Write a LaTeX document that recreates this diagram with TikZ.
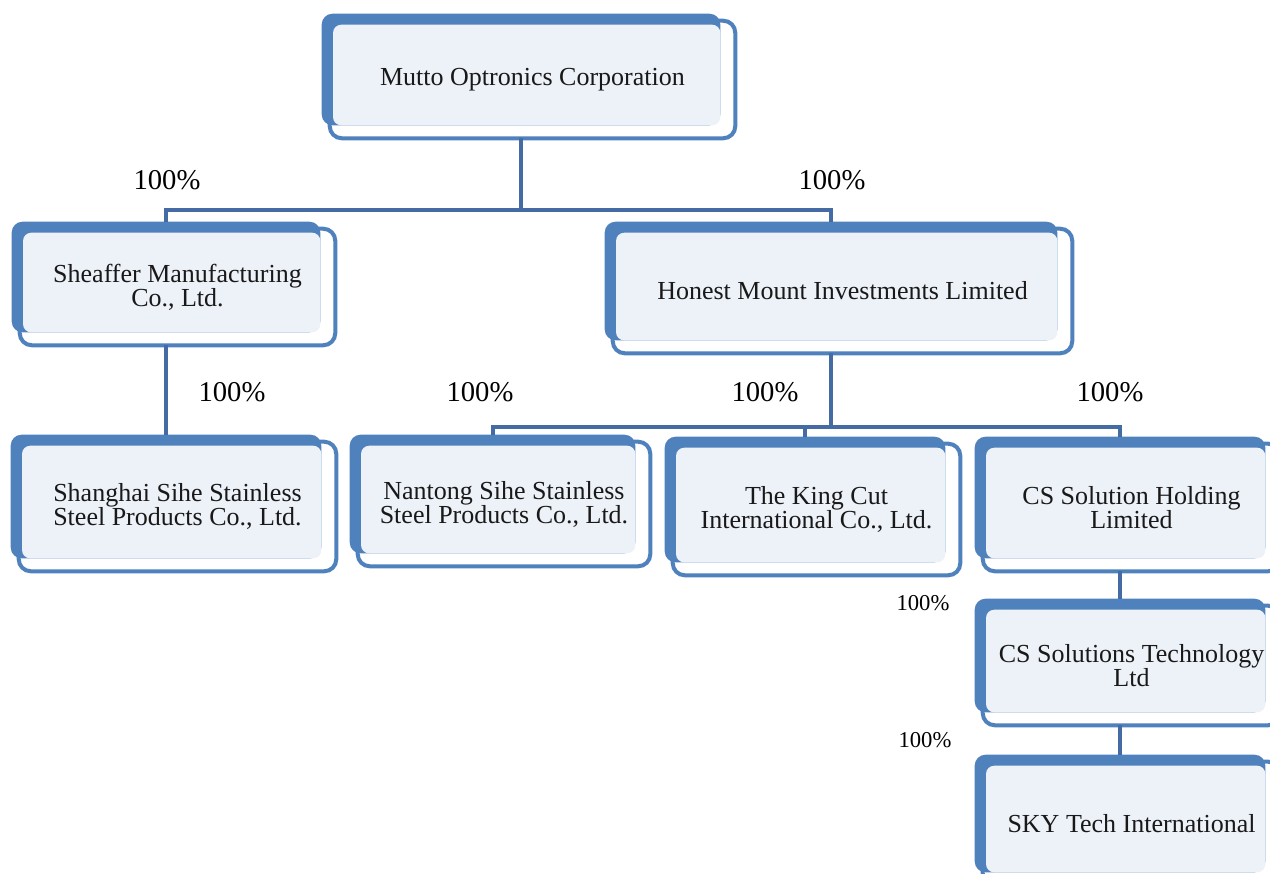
\documentclass[tikz,border=0pt]{standalone}
\usepackage{fontspec}
\setmainfont{Liberation Serif}
\usetikzlibrary{backgrounds}
\definecolor{boxblue}{RGB}{79,129,189}
\definecolor{boxfill}{RGB}{237,241,248}
\definecolor{linkblue}{RGB}{68,107,163}
\tikzset{
orgbox/.style={inner sep=0pt, align=center, text=black!90,
	font=\fontsize{19.5}{18}\selectfont},
boxframe/.style={draw=boxblue, fill=white, line width=3pt, rounded corners=9pt},
boxback/.style={fill=boxblue, rounded corners=8pt},
boxinner/.style={fill=boxfill, rounded corners=6pt},
link/.style={draw=linkblue, line width=3pt},
pct/.style={font=\fontsize{21.5}{24}\selectfont},
smallpct/.style={font=\fontsize{17}{20}\selectfont}
}

\begin{document}
\begin{tikzpicture}[x=0.75pt, y=-0.75pt]
	\useasboundingbox (0,0) rectangle (1270,874);
	% companies
	\node[orgbox, minimum width=303.75pt, minimum height=87.75pt] (mutto) at (532.5,79.5) {Mutto Optronics Corporation};
	\node[orgbox, minimum width=236.25pt, minimum height=87pt] (sheaffer) at (177.5,287) {Sheaffer Manufacturing\\Co., Ltd.};
	\node[orgbox, minimum width=344.25pt, minimum height=93pt] (honest) at (842.5,291) {Honest Mount Investments Limited};
	\node[orgbox, minimum width=237.75pt, minimum height=96.75pt] (shanghai) at (177.5,506.5) {Shanghai Sihe Stainless\\Steel Products Co., Ltd.};
	\node[orgbox, minimum width=219pt, minimum height=93pt] (nantong) at (504,504) {Nantong Sihe Stainless\\Steel Products Co., Ltd.};
	\node[orgbox, minimum width=215.25pt, minimum height=98.25pt] (king) at (816.5,509.5) {The King Cut\\International Co., Ltd.};
	\node[orgbox, minimum width=222.75pt, minimum height=95.25pt] (csholding) at (1131.5,507.5) {CS Solution Holding\\Limited};
	\node[orgbox, minimum width=222.75pt, minimum height=89.25pt] (cstech) at (1131.5,665.5) {CS Solutions Technology\\Ltd};
	\node[orgbox, minimum width=222.75pt, minimum height=92.25pt] (sky) at (1131.5,823.5) {SKY Tech International};

	% box layers and connector ends
	\begin{scope}[on background layer]
	\foreach \n in {mutto,sheaffer,honest,shanghai,nantong,king,csholding,cstech,sky} {
		\draw[boxframe] (\n.north west) rectangle (\n.south east);
		\fill[boxback] ([shift={(-6pt,5.25pt)}]\n.north west) rectangle ([shift={(-11.25pt,9.75pt)}]\n.south east);
		\fill[boxinner] ([shift={(2.5pt,-3pt)}]\n.north west) rectangle ([shift={(-11.25pt,9.75pt)}]\n.south east);
	}
	\end{scope}
	\foreach \n in {mutto,sheaffer,honest,shanghai,nantong,king,csholding,cstech,sky} {
		\coordinate (\n-in) at ([shift={(-8.6pt,5.25pt)}]\n.north);
		\coordinate (\n-out) at ([xshift=-8.6pt]\n.south);
	}

	% ownership lines
	\draw[link] (mutto-out) -- ++(0,72) -| (sheaffer-in);
	\draw[link] (mutto-out) -- ++(0,72) -| (honest-in);
	\draw[link] (sheaffer-out) -- (shanghai-in);
	\draw[link] (honest-out) -- ++(0,74) -| (nantong-in);
	\draw[link] (honest-out) -- ++(0,74) -| (king-in);
	\draw[link] (honest-out) -- ++(0,74) -| (csholding-in);
	\draw[link] (csholding-out) -- (cstech-in);
	\draw[link] (cstech-out) -- (sky-in);

	% shares
	\node[pct] (p-sheaffer) at (167,180) {100\%};
	\node[pct] (p-honest) at (832,180) {100\%};
	\node[pct] (p-shanghai) at (232,392) {100\%};
	\node[pct] (p-nantong) at (480,392) {100\%};
	\node[pct] (p-king) at (765,392) {100\%};
	\node[pct] (p-csholding) at (1110,392) {100\%};
	\node[smallpct] (p-cstech) at (923,603) {100\%};
	\node[smallpct] (p-sky) at (925,740) {100\%};
\end{tikzpicture}
\end{document}
